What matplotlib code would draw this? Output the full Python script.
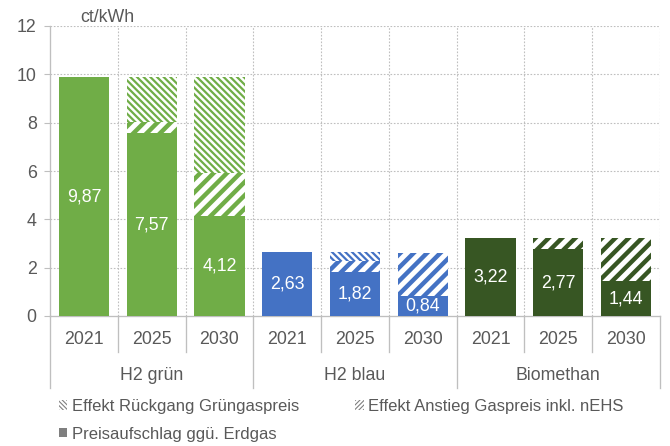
import matplotlib
matplotlib.use("Agg")
import matplotlib.pyplot as plt
import matplotlib as mpl
from matplotlib.patches import Patch
from matplotlib.lines import Line2D
import matplotlib.transforms as mtransforms

# ---- data ----
groups = ["H2 grün", "H2 blau", "Biomethan"]
years = ["2021", "2025", "2030"]
preisaufschlag = [9.87, 7.57, 4.12, 2.63, 1.82, 0.84, 3.22, 2.77, 1.44]
anstieg_gaspreis = [0, 0.45, 1.78, 0, 0.45, 1.78, 0, 0.45, 1.78]
rueckgang_gruengas = [0, 1.85, 3.97, 0, 0.36, 0, 0, 0, 0]
group_colors = ["#70AD47", "#4472C4", "#375623"]
legend_labels = ["Effekt Rückgang Grüngaspreis", "Effekt Anstieg Gaspreis inkl. nEHS",
                 "Preisaufschlag ggü. Erdgas"]
y_ticks = [0, 2, 4, 6, 8, 10, 12]
unit_label = "ct/kWh"

plt.rcParams['font.family'] = ['Liberation Sans', 'DejaVu Sans']
DPI = 80
W, H = 670, 446
fig = plt.figure(figsize=(W / DPI, H / DPI), dpi=DPI)
ax = fig.add_axes([50 / W, (H - 316) / H, 610 / W, 290 / H])

GREY_TXT = "#595959"
GREY_LINE = "#BFBFBF"
FS = 16
BS = chr(92)

n = len(preisaufschlag)
xs = list(range(n))
colors = [group_colors[i // 3] for i in range(n)]
bw = 0.74

base = preisaufschlag
b1 = [a + b for a, b in zip(preisaufschlag, anstieg_gaspreis)]

LW_A, LW_R = 4.0, 2.0
ax.bar(xs, preisaufschlag, width=bw, color=colors, linewidth=0, zorder=3)
with mpl.rc_context({'hatch.linewidth': LW_A}):
    bars_a = ax.bar(xs, anstieg_gaspreis, bottom=base, width=bw, color="white",
                    edgecolor=colors, hatch="//", linewidth=0, zorder=3)
with mpl.rc_context({'hatch.linewidth': LW_R}):
    bars_r = ax.bar(xs, rueckgang_gruengas, bottom=b1, width=bw, color="white",
                    edgecolor=colors, hatch=BS * 4, linewidth=0, zorder=3)
for b in bars_a:
    if hasattr(b, "set_hatch_linewidth"):
        b.set_hatch_linewidth(LW_A)
for b in bars_r:
    if hasattr(b, "set_hatch_linewidth"):
        b.set_hatch_linewidth(LW_R)

for x, v in zip(xs, preisaufschlag):
    ax.text(x, v / 2, f"{v:.2f}".replace(".", ","), ha="center", va="center",
            color="white", fontsize=FS, zorder=4)

ax.set_xlim(-0.5, n - 0.5)
ax.set_ylim(0, 12)
ax.set_yticks(y_ticks)
ax.set_yticklabels([str(t) for t in y_ticks])
ax.tick_params(axis="y", colors=GREY_LINE, labelcolor=GREY_TXT, labelsize=FS,
               length=5, width=1, pad=7)
ax.set_xticks([])

for s in ["top", "right"]:
    ax.spines[s].set_visible(False)
ax.spines["left"].set_color(GREY_LINE)
ax.spines["bottom"].set_color(GREY_LINE)
ax.spines["left"].set_linewidth(1.2)
ax.spines["bottom"].set_linewidth(1.2)

for t in y_ticks[1:]:
    ax.axhline(t, color=GREY_LINE, linestyle=(0, (1.5, 1.5)), linewidth=1, zorder=1)
for i in range(n):
    ax.axvline(i + 0.5, color=GREY_LINE, linestyle=(0, (1.5, 1.5)), linewidth=1, zorder=1)

# category axis
trans = mtransforms.blended_transform_factory(ax.transData, fig.transFigure)
def fy(py):
    return (H - py) / H
for i, x in enumerate(xs):
    ax.text(x, fy(340), years[i % 3], transform=trans, ha="center", va="center",
            color=GREY_TXT, fontsize=FS)
for g, name in enumerate(groups):
    ax.text(3 * g + 1, fy(376), name, transform=trans, ha="center", va="center",
            color=GREY_TXT, fontsize=FS)
for i in range(n + 1):
    xb = i - 0.5
    yend = fy(388) if i % 3 == 0 else fy(352)
    ax.add_line(Line2D([xb, xb], [fy(316), yend], transform=trans, color=GREY_LINE,
                       linewidth=1.2, clip_on=False))

fig.text(80 / W, fy(18), unit_label, ha="left", va="center", color=GREY_TXT, fontsize=FS)

# legend
LG = "#7F7F7F"
with mpl.rc_context({'hatch.linewidth': 1.2}):
    h_r = Patch(facecolor="white", edgecolor=LG, hatch=BS * 6, linewidth=0)
    h_a = Patch(facecolor="white", edgecolor=LG, hatch="//////", linewidth=0)
h_p = Patch(facecolor=LG, edgecolor=LG, linewidth=0)
leg = fig.legend([h_r, h_p, h_a], [legend_labels[0], legend_labels[2], legend_labels[1]],
                 ncol=2, loc="upper left", bbox_to_anchor=(59 / W, fy(399)),
                 frameon=False, fontsize=15, labelcolor=GREY_TXT,
                 handlelength=0.5, handleheight=0.5, handletextpad=0.25,
                 columnspacing=3.4, labelspacing=0.75, borderpad=0, borderaxespad=0)

fig.savefig("out.png", dpi=DPI)
